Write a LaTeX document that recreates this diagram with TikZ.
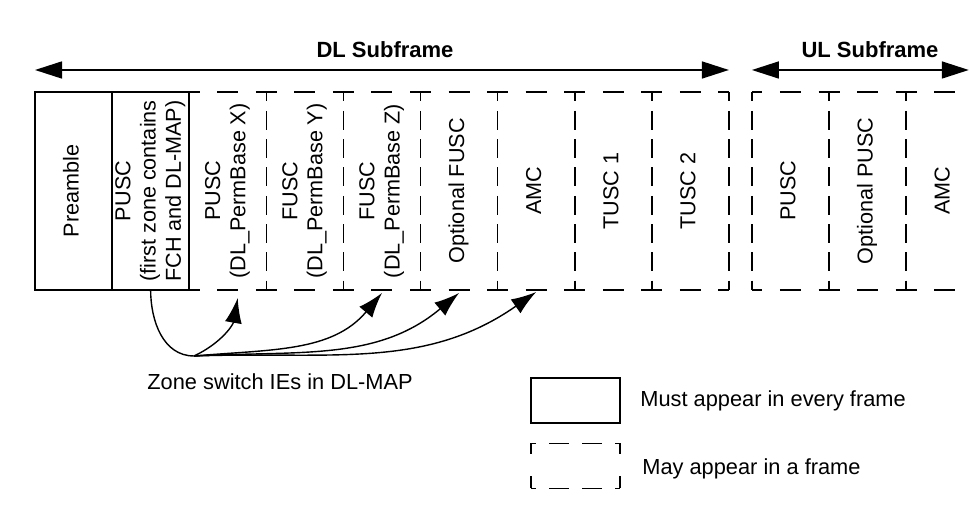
\documentclass[tikz,border=0pt]{standalone}
\usepackage{fontspec}
\setmainfont{Liberation Sans}
\usepackage{graphicx}
\usepackage{tikz}
\usetikzlibrary{arrows.meta,positioning}
\newcommand{\vtext}[1]{\rotatebox{90}{\begin{tabular}{@{}c@{}}#1\end{tabular}}}
\tikzset{
  zone/.style={minimum width=38.55pt, minimum height=99pt, inner sep=0pt, outer sep=0pt, font=\fontsize{10.8}{12.6}\selectfont},
  mustzone/.style={zone, draw=black, line width=0.8pt},
  mayzone/.style={zone},
  hdash/.style={line width=0.8pt, dash pattern=on 10.5pt off 8.775pt, dash phase=5.25pt},
  vdash/.style={line width=0.8pt, dash pattern=on 9.4pt off 4.75pt, dash phase=4.7pt},
  span/.style={{Triangle[length=13.5pt,width=8.5pt]}-{Triangle[length=13.5pt,width=8.5pt]}, line width=0.8pt},
  switcharrow/.style={-{Latex[length=12.5pt,width=8.5pt]}, line width=0.7pt},
  title/.style={font=\bfseries\fontsize{11}{13}\selectfont, inner sep=0pt},
  note/.style={font=\fontsize{10.9}{13}\selectfont, inner sep=0pt, anchor=west},
  keybox/.style={minimum width=44.5pt, minimum height=22.5pt, inner sep=0pt, outer sep=0pt},
  keyh/.style={line width=0.8pt, dash pattern=on 10pt off 6.5pt, dash phase=7.5pt},
  keyv/.style={line width=0.8pt, dash pattern=on 11pt off 11pt, dash phase=5.5pt}
}

\begin{document}
\begin{tikzpicture}[x=0.5pt, y=0.5pt]
\useasboundingbox (0,0) rectangle (969,-506);
\clip (0,0) rectangle (969,-506);
% DL zones
\node[mustzone] (pre) at (73.55,-191) {\vtext{Preamble}};
\node[mustzone, right=0pt of pre] (pusc0) {\vtext{PUSC\\(first zone contains\\FCH and DL-MAP)}};
\node[mayzone, right=0pt of pusc0] (puscx) {\vtext{PUSC\\(DL\_PermBase X)}};
\node[mayzone, right=0pt of puscx] (fuscy) {\vtext{FUSC\\(DL\_PermBase Y)}};
\node[mayzone, right=0pt of fuscy] (fuscz) {\vtext{FUSC\\(DL\_PermBase Z)}};
\node[mayzone, right=0pt of fuscz] (optfusc) {\vtext{Optional FUSC}};
\node[mayzone, right=0pt of optfusc] (amcdl) {\vtext{AMC}};
\node[mayzone, right=0pt of amcdl] (tusca) {\vtext{TUSC 1}};
\node[mayzone, right=0pt of tusca] (tuscb) {\vtext{TUSC 2}};
% UL zones
\node[mayzone, right=11.5pt of tuscb] (puscul) {\vtext{PUSC}};
\node[mayzone, right=0pt of puscul] (optpusc) {\vtext{Optional PUSC}};
\node[mayzone, right=0pt of optpusc] (amcul) {\vtext{AMC}};
% dashed outlines
\draw[hdash] (pusc0.north east) -- (tuscb.north east);
\draw[hdash] (pusc0.south east) -- (tuscb.south east);
\draw[hdash] (puscul.north west) -- (amcul.north east);
\draw[hdash] (puscul.south west) -- (amcul.south east);
\draw[vdash] (puscx.north east) -- (puscx.south east);
\draw[vdash] (fuscy.north east) -- (fuscy.south east);
\draw[vdash] (fuscz.north east) -- (fuscz.south east);
\draw[vdash] (optfusc.north east) -- (optfusc.south east);
\draw[vdash] (amcdl.north east) -- (amcdl.south east);
\draw[vdash] (tusca.north east) -- (tusca.south east);
\draw[vdash] (tuscb.north east) -- (tuscb.south east);
\draw[vdash] (puscul.north west) -- (puscul.south west);
\draw[vdash] (puscul.north east) -- (puscul.south east);
\draw[vdash] (optpusc.north east) -- (optpusc.south east);
% subframe spans
\node[title] (dltitle) at (385,-50) {DL Subframe};
\node[title] (ultitle) at (870,-50) {UL Subframe};
\draw[span] ([yshift=11pt]pre.north west) -- ([yshift=11pt]tuscb.north east);
\draw[span] ([yshift=11pt]puscul.north west) -- ([xshift=-7.2pt,yshift=11pt]amcul.north east);
% zone switch IEs
\coordinate (hub) at (194,-356);
\draw[line width=0.7pt] (pusc0.south) to[out=-90,in=180] (hub);
\draw[switcharrow] (hub) to[out=25,in=-100] ([xshift=5pt,yshift=-4pt]puscx.south);
\draw[switcharrow] (hub) to[out=5,in=-130] ([yshift=-1.5pt]fuscz.south);
\draw[switcharrow] (hub) to[out=3,in=-140] ([yshift=-1.5pt]optfusc.south);
\draw[switcharrow] (hub) to[out=2,in=-145] ([yshift=-1pt]amcdl.south);
\node[note] (zonelbl) at (147,-382) {Zone switch IEs in DL-MAP};
% legend
\node[keybox, draw=black, line width=0.8pt] (keymust) at (575.5,-400.5) {};
\node[note, right=10pt of keymust] (keymusttxt) {Must appear in every frame};
\node[keybox] (keymay) at (575.5,-466) {};
\draw[keyh] (keymay.north west) -- (keymay.north east);
\draw[keyh] (keymay.south west) -- (keymay.south east);
\draw[keyv] (keymay.north west) -- (keymay.south west);
\draw[keyv] (keymay.north east) -- (keymay.south east);
\node[note, right=11pt of keymay, yshift=-1.5pt] (keymaytxt) {May appear in a frame};
\end{tikzpicture}
\end{document}
